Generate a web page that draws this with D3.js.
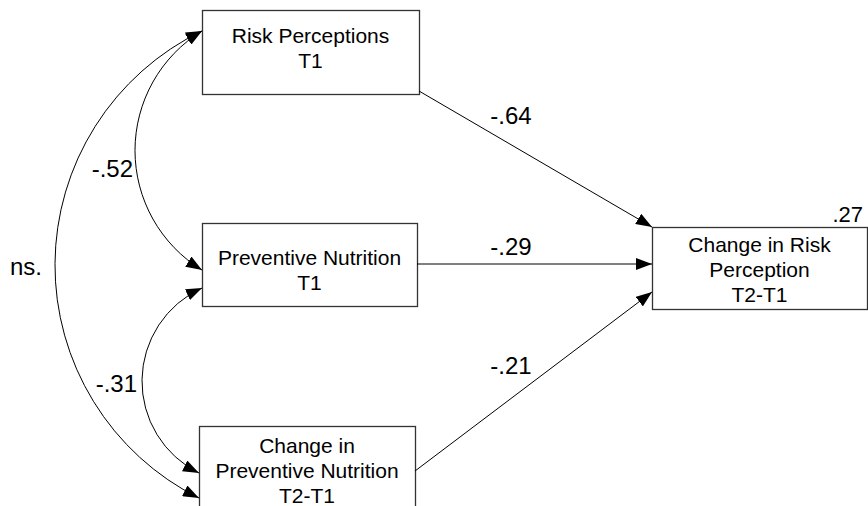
<!DOCTYPE html>
<html>
<head>
<meta charset="utf-8">
<script src="https://cdn.jsdelivr.net/npm/d3@7"></script>
<style>
  html, body { margin: 0; background: #fff; }
  svg { display: block; font-family: "Liberation Sans", Arial, Helvetica, sans-serif; }
</style>
</head>
<body>
<svg id="chart" width="868" height="506"></svg>
<script>
/* variables of the path model (box labels, one entry per line) */
const nodeIds = ["rp1", "pn1", "dpn", "drp"];
const nodeLabels = [
  ["Risk Perceptions", "T1"],
  ["Preventive Nutrition", "T1"],
  ["Change in", "Preventive Nutrition", "T2-T1"],
  ["Change in Risk", "Perception", "T2-T1"]
];

/* regression paths -> outcome, standardized coefficients */
const pathFrom = ["rp1", "pn1", "dpn"];
const pathTo = ["drp", "drp", "drp"];
const pathCoef = ["-.64", "-.29", "-.21"];

/* correlations between predictors (double-headed arcs) */
const covA = ["rp1", "pn1", "rp1"];
const covB = ["pn1", "dpn", "dpn"];
const covCoef = ["-.52", "-.31", "ns."];

/* explained variance of the outcome */
const r2Label = ".27";

/* ── layout (pixels) ── */
const box = {
  rp1: { x: 202, y: 10, w: 217, h: 84, first: 33 },
  pn1: { x: 202, y: 223, w: 215, h: 83, first: 42 },
  dpn: { x: 199, y: 426, w: 216, h: 84, first: 27 },
  drp: { x: 652, y: 227, w: 215, h: 82, first: 25 }
};
const lineH = 25;
// where each regression arrow leaves / enters (offset from box top-left)
const outPort = { rp1: [217, 81], pn1: [215, 41], dpn: [216, 45] };
const inPort = [[0, 0], [0, 37], [0, 65]];
const coefPos = [[511, 124], [511, 255], [511, 374]];
// double-headed arcs: y ports on left edges and leftmost x of the bulge
const covPorts = [[21, 47], [65, 47], [21, 72]];
const covLeft = [135, 142, 55];
const covLabel = [[133, 177, "end"], [137, 392, "end"], [10, 275, "start"]];

const svg = d3.select("#chart");

svg.append("defs").append("marker")
  .attr("id", "head")
  .attr("viewBox", "0 0 16 12")
  .attr("refX", 16).attr("refY", 6)
  .attr("markerWidth", 16).attr("markerHeight", 12)
  .attr("markerUnits", "userSpaceOnUse")
  .attr("orient", "auto-start-reverse")
  .append("path").attr("d", "M0,0L16,6L0,12Z").attr("fill", "#000");

/* boxes */
const nodes = nodeIds.map((id, i) => ({ id, lines: nodeLabels[i], ...box[id] }));
const g = svg.selectAll("g.node").data(nodes).join("g").attr("class", "node");
g.append("rect")
  .attr("x", (d) => d.x + 0.5).attr("y", (d) => d.y + 0.5)
  .attr("width", (d) => d.w).attr("height", (d) => d.h)
  .attr("fill", "#fff").attr("stroke", "#333").attr("stroke-width", 1.3);
g.append("text")
  .attr("text-anchor", "middle")
  .attr("font-size", 21)
  .attr("fill", "#000")
  .selectAll("tspan").data((d) => d.lines.map((t, k) => ({ t, k, d })))
  .join("tspan")
  .attr("x", (o) => o.d.x + o.d.w / 2)
  .attr("y", (o) => o.d.y + o.d.first + o.k * lineH)
  .text((o) => o.t);

/* regression arrows */
const line = d3.line();
pathFrom.forEach((f, i) => {
  const a = box[f], b = box[pathTo[i]];
  const p0 = [a.x + outPort[f][0], a.y + outPort[f][1]];
  const p1 = [b.x + inPort[i][0], b.y + inPort[i][1]];
  svg.append("path")
    .attr("d", line([p0, p1]))
    .attr("fill", "none").attr("stroke", "#000").attr("stroke-width", 1)
    .attr("marker-end", "url(#head)");
  svg.append("text")
    .attr("x", coefPos[i][0]).attr("y", coefPos[i][1])
    .attr("text-anchor", "middle").attr("font-size", 24)
    .text(pathCoef[i]);
});

/* correlation arcs (circular, bulging to the left) */
covA.forEach((id, i) => {
  const a = box[id], b = box[covB[i]];
  const x0 = a.x, y0 = a.y + covPorts[i][0];
  const x1 = b.x, y1 = b.y + covPorts[i][1];
  const half = Math.hypot(x1 - x0, y1 - y0) / 2;
  const s = (x0 + x1) / 2 - covLeft[i];
  const r = (half * half + s * s) / (2 * s);
  svg.append("path")
    .attr("d", `M${x0},${y0}A${r},${r} 0 0 0 ${x1},${y1}`)
    .attr("fill", "none").attr("stroke", "#000").attr("stroke-width", 1)
    .attr("marker-start", "url(#head)")
    .attr("marker-end", "url(#head)");
  svg.append("text")
    .attr("x", covLabel[i][0]).attr("y", covLabel[i][1])
    .attr("text-anchor", covLabel[i][2]).attr("font-size", 24)
    .text(covCoef[i]);
});

/* R² of the outcome */
svg.append("text")
  .attr("x", box.drp.x + box.drp.w - 4).attr("y", box.drp.y - 5)
  .attr("text-anchor", "end").attr("font-size", 22)
  .text(r2Label);
</script>
</body>
</html>
